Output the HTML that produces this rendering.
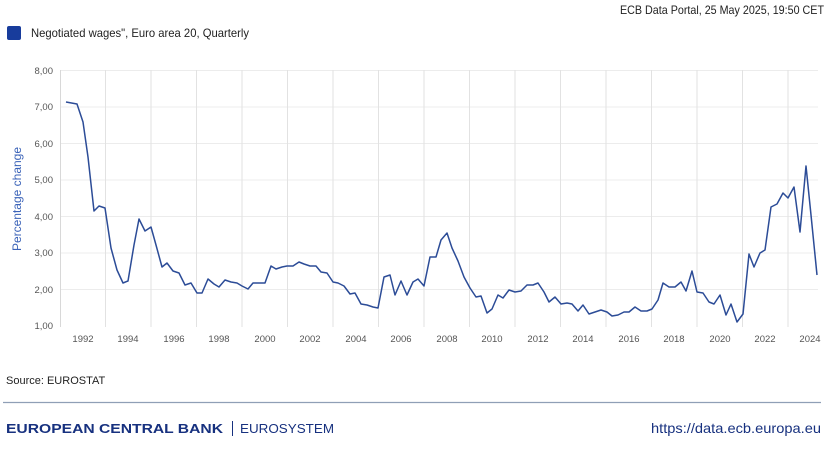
<!DOCTYPE html>
<html><head><meta charset="utf-8"><style>
html,body{margin:0;padding:0;background:#fff;}
svg{display:block;font-family:"Liberation Sans",sans-serif;}
</style></head><body>
<svg width="827" height="464" viewBox="0 0 827 464" xmlns="http://www.w3.org/2000/svg">
<text x="824" y="14" font-size="12" fill="#222" text-anchor="end" textLength="204" lengthAdjust="spacingAndGlyphs">ECB Data Portal, 25 May 2025, 19:50 CET</text>
<rect x="7" y="26" width="14" height="14" rx="2" fill="#183c9c"/>
<text x="31" y="37" font-size="12" fill="#222" textLength="218" lengthAdjust="spacingAndGlyphs">Negotiated wages", Euro area 20, Quarterly</text>
<g stroke="#ececec" stroke-width="1">
<line x1="60" y1="70.5" x2="818" y2="70.5"/><line x1="60" y1="107" x2="818" y2="107"/><line x1="60" y1="143.5" x2="818" y2="143.5"/><line x1="60" y1="180" x2="818" y2="180"/><line x1="60" y1="216.5" x2="818" y2="216.5"/><line x1="60" y1="253" x2="818" y2="253"/><line x1="60" y1="289.5" x2="818" y2="289.5"/>
</g>
<g stroke="#e2e2e2" stroke-width="1">
<line x1="105.5" y1="70" x2="105.5" y2="327"/><line x1="151" y1="70" x2="151" y2="327"/><line x1="196.5" y1="70" x2="196.5" y2="327"/><line x1="242" y1="70" x2="242" y2="327"/><line x1="287.5" y1="70" x2="287.5" y2="327"/><line x1="333" y1="70" x2="333" y2="327"/><line x1="378.5" y1="70" x2="378.5" y2="327"/><line x1="424" y1="70" x2="424" y2="327"/><line x1="469.5" y1="70" x2="469.5" y2="327"/><line x1="515" y1="70" x2="515" y2="327"/><line x1="560.5" y1="70" x2="560.5" y2="327"/><line x1="606" y1="70" x2="606" y2="327"/><line x1="651.5" y1="70" x2="651.5" y2="327"/><line x1="697" y1="70" x2="697" y2="327"/><line x1="742.5" y1="70" x2="742.5" y2="327"/><line x1="788" y1="70" x2="788" y2="327"/>
</g>
<line x1="60.5" y1="70" x2="60.5" y2="327" stroke="#d8d8d8"/>
<g font-size="9.5" fill="#555" text-anchor="end">
<text x="53" y="74">8,00</text><text x="53" y="110">7,00</text><text x="53" y="147">6,00</text><text x="53" y="183">5,00</text><text x="53" y="220">4,00</text><text x="53" y="256">3,00</text><text x="53" y="293">2,00</text><text x="53" y="329">1,00</text>
</g>
<text transform="translate(21,199) rotate(-90)" font-size="12" fill="#3a62b8" text-anchor="middle">Percentage change</text>
<g font-size="9.5" fill="#555" text-anchor="middle">
<text x="83" y="342">1992</text><text x="128" y="342">1994</text><text x="174" y="342">1996</text><text x="219" y="342">1998</text><text x="265" y="342">2000</text><text x="310" y="342">2002</text><text x="356" y="342">2004</text><text x="401" y="342">2006</text><text x="447" y="342">2008</text><text x="492" y="342">2010</text><text x="538" y="342">2012</text><text x="583" y="342">2014</text><text x="629" y="342">2016</text><text x="674" y="342">2018</text><text x="720" y="342">2020</text><text x="765" y="342">2022</text><text x="810" y="342">2024</text>
</g>
<polyline fill="none" stroke="#2c4c97" stroke-width="1.5" stroke-linejoin="round" points="66,102 77,104 83,122 88,157 94,211 99,206 105,208 111,248 117,270 123,283 128,281 134,245 139,219 145,231 151,227 156,245 162,267 167,263 173,271 179,273 185,285 191,283 197,293 202,293 208,279 214,284 219,287 225,280 231,282 237,283 242,286 248,289 253,283 259,283 265,283 271,266 276,269 282,267 287,266 293,266 299,262 304,264 310,266 316,266 321,272 327,273 333,282 338,283 344,286 350,294 355,293 361,304 367,305 373,307 378,308 384,277 390,275 395,295 401,281 407,295 413,282 418,279 424,286 430,257 436,257 441,240 447,233 452,248 458,261 464,277 470,288 476,297 481,296 487,313 492,309 498,295 503,298 509,290 515,292 521,291 527,285 533,285 538,283 544,292 549,302 555,297 561,304 567,303 572,304 578,311 583,305 589,314 595,312 601,310 607,312 612,316 618,315 624,312 629,312 635,307 641,311 647,311 652,309 658,300 663,283 669,287 675,287 681,282 686,291 692,271 697,292 703,293 709,302 714,304 720,295 726,315 731,304 737,322 743,314 749,254 754,267 760,253 765,250 771,207 777,204 783,193 788,198 794,187 800,232 806,166 811,215 817,275"/>
<text x="6" y="384" font-size="11" fill="#222">Source: EUROSTAT</text>
<line x1="3" y1="402.5" x2="821" y2="402.5" stroke="#8f9fb6" stroke-width="1.2"/>
<text x="6" y="433" font-size="13" font-weight="bold" fill="#17317f" textLength="217" lengthAdjust="spacingAndGlyphs">EUROPEAN CENTRAL BANK</text>
<line x1="232.5" y1="421" x2="232.5" y2="436" stroke="#17317f" stroke-width="1"/>
<text x="240" y="433" font-size="13" fill="#17317f" textLength="94" lengthAdjust="spacingAndGlyphs">EUROSYSTEM</text>
<text x="821" y="433" font-size="14" fill="#17317f" text-anchor="end" textLength="170" lengthAdjust="spacingAndGlyphs">https://data.ecb.europa.eu</text>
</svg>
</body></html>
